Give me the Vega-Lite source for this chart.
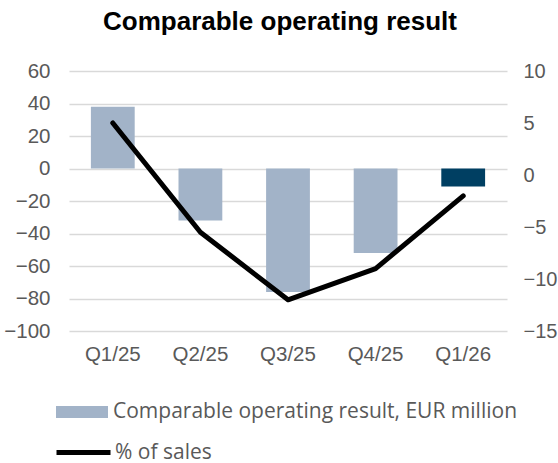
{
  "$schema": "https://vega.github.io/schema/vega-lite/v6.json",
  "autosize": {"type": "none"},
  "width": 438,
  "height": 260,
  "padding": {"left": 69, "top": 71, "right": 51, "bottom": 132},
  "background": "white",
  "title": {
    "text": "Comparable operating result",
    "font": "Liberation Sans",
    "fontSize": 26,
    "fontWeight": "bold",
    "color": "#000000",
    "anchor": "middle",
    "dx": -8,
    "offset": 26
  },
  "config": {
    "view": {"stroke": null},
    "font": "Liberation Sans"
  },
  "data": {
    "values": [
      {"quarter": "Q1/25", "result": 38, "pct": 5, "series": "Comparable operating result, EUR million", "line": "% of sales"},
      {"quarter": "Q2/25", "result": -32, "pct": -5.5, "series": "Comparable operating result, EUR million", "line": "% of sales"},
      {"quarter": "Q3/25", "result": -76, "pct": -12, "series": "Comparable operating result, EUR million", "line": "% of sales"},
      {"quarter": "Q4/25", "result": -52, "pct": -9, "series": "Comparable operating result, EUR million", "line": "% of sales"},
      {"quarter": "Q1/26", "result": -11, "pct": -2, "series": "Latest quarter", "line": "% of sales"}
    ]
  },
  "encoding": {
    "x": {
      "field": "quarter",
      "type": "nominal",
      "sort": null,
      "scale": {"paddingInner": 0.5, "paddingOuter": 0.25},
      "axis": {
        "title": null,
        "labelAngle": 0,
        "labelFontSize": 20.5,
        "labelColor": "#595959",
        "labelPadding": 13,
        "ticks": false,
        "domain": false
      }
    }
  },
  "layer": [
    {
      "mark": {"type": "bar"},
      "encoding": {
        "y": {
          "field": "result",
          "type": "quantitative",
          "scale": {"domain": [-100, 60], "nice": false},
          "axis": {
            "title": null,
            "values": [-100, -80, -60, -40, -20, 0, 20, 40, 60],
            "labelFontSize": 20.5,
            "labelColor": "#595959",
            "labelPadding": 19,
            "ticks": false,
            "domain": false,
            "grid": true,
            "gridColor": "#D9D9D9",
            "gridWidth": 1.5
          }
        },
        "color": {
          "field": "series",
          "type": "nominal",
          "scale": {
            "domain": ["Comparable operating result, EUR million", "Latest quarter"],
            "range": ["#A2B3C8", "#003F62"]
          },
          "legend": {
            "title": null,
            "values": ["Comparable operating result, EUR million"],
            "orient": "none",
            "legendX": -13,
            "legendY": 315,
            "padding": 0,
            "symbolType": "M-1,-0.23H1V0.23H-1Z",
            "symbolSize": 2704,
            "symbolStrokeWidth": 0,
            "labelFontSize": 21,
            "labelColor": "#595959",
            "labelFont": "Open Sans",
            "labelOffset": 5,
            "labelLimit": 500
          }
        }
      }
    },
    {
      "mark": {"type": "line", "strokeWidth": 5, "strokeCap": "round", "strokeJoin": "round"},
      "encoding": {
        "y": {
          "field": "pct",
          "type": "quantitative",
          "scale": {"domain": [-15, 10], "nice": false},
          "axis": {
            "orient": "right",
            "title": null,
            "values": [-15, -10, -5, 0, 5, 10],
            "labelFontSize": 20,
            "labelColor": "#595959",
            "labelPadding": 16,
            "ticks": false,
            "domain": false,
            "grid": false
          }
        },
        "stroke": {
          "field": "line",
          "type": "nominal",
          "scale": {"range": ["#000000"]},
          "legend": {
            "title": null,
            "orient": "none",
            "legendX": -15,
            "legendY": 352,
            "padding": 0,
            "symbolType": "stroke",
            "symbolSize": 2916,
            "symbolStrokeWidth": 5,
            "labelFontSize": 21,
            "labelColor": "#595959",
            "labelFont": "Open Sans",
            "labelOffset": 2,
            "labelLimit": 500
          }
        }
      }
    }
  ],
  "resolve": {"scale": {"y": "independent", "color": "independent"}}
}
